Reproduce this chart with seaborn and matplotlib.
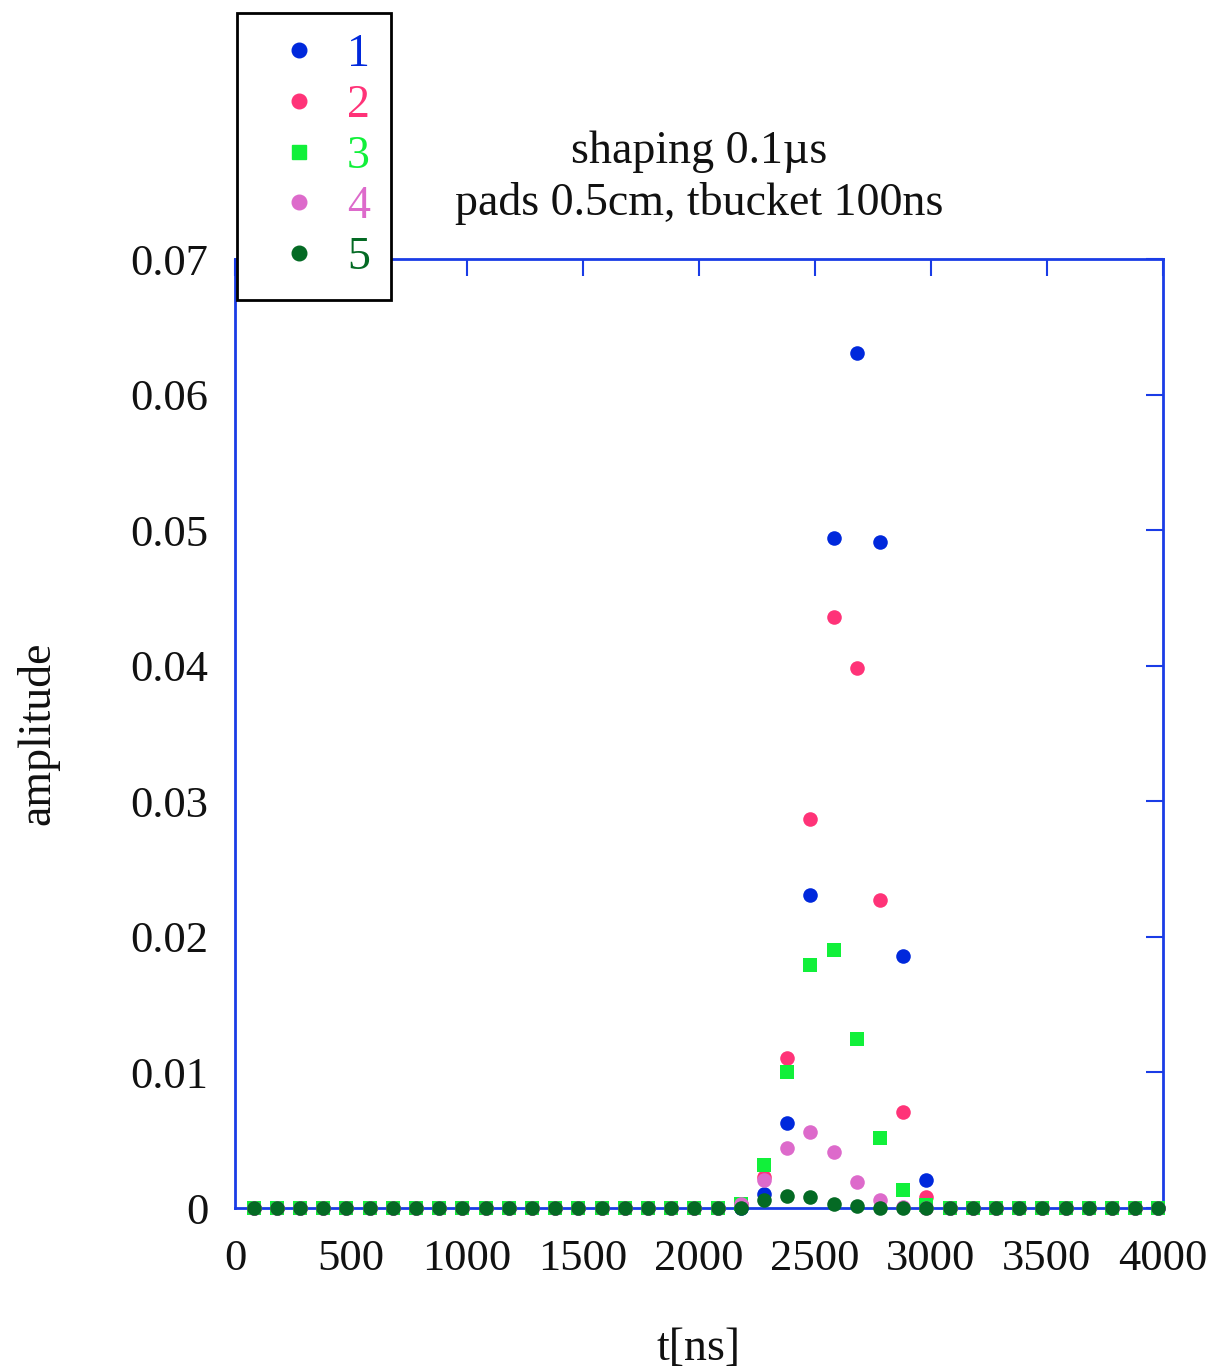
import numpy as np
import pandas as pd
import matplotlib
matplotlib.use("Agg")
import matplotlib.pyplot as plt
import seaborn as sns
from matplotlib.lines import Line2D

# ---- data ----
t_ns = list(range(80, 4000, 100))  # 40 time buckets

amp_1 = [0]*22 + [0.0010, 0.0063, 0.0231, 0.0494, 0.0631, 0.0491, 0.0186, 0.0021] + [0]*10
amp_2 = [0]*21 + [0.0003, 0.0023, 0.0111, 0.0287, 0.0436, 0.0398, 0.0227, 0.0071, 0.0008] + [0]*10
amp_3 = [0]*21 + [0.0003, 0.0032, 0.0100, 0.0179, 0.0190, 0.0125, 0.0052, 0.0013, 0.0002] + [0]*10
amp_4 = [0]*21 + [0.0003, 0.0021, 0.0044, 0.0056, 0.0041, 0.0019, 0.0006, 0.0001, 0.0] + [0]*10
amp_5 = [0]*22 + [0.0006, 0.0009, 0.0008, 0.0003, 0.00015] + [0]*13

series_names = ["1", "2", "3", "4", "5"]
series_vals = [amp_1, amp_2, amp_3, amp_4, amp_5]
series_colors = ["#0028DC", "#FF3378", "#11F03A", "#DD6ACB", "#046A24"]
series_markers = ["o", "o", "s", "o", "o"]

xticks = [0, 500, 1000, 1500, 2000, 2500, 3000, 3500, 4000]
xtick_labels = ["0", "500", "1000", "1500", "2000", "2500", "3000", "3500", "4000"]
yticks = [0, 0.01, 0.02, 0.03, 0.04, 0.05, 0.06, 0.07]
ytick_labels = ["0", "0.01", "0.02", "0.03", "0.04", "0.05", "0.06", "0.07"]

title_text = "shaping 0.1\u00b5s\npads 0.5cm, tbucket 100ns"

# ---- style ----
sns.set_theme(style="white")
plt.rcParams["font.family"] = ["Liberation Serif", "DejaVu Serif"]
FS = 32
axis_blue = "#1A3CE6"

fig = plt.figure(figsize=(12.15, 13.72), dpi=100)
ax = fig.add_axes([0.1934, 0.1195, 0.7638, 0.6917])

for name, vals, col, mk in zip(series_names, series_vals, series_colors, series_markers):
    df = pd.DataFrame({"t": t_ns, "amp": vals})
    sns.scatterplot(data=df, x="t", y="amp", ax=ax, color=col, marker=mk,
                    s=110, linewidth=0, label=name, legend=False, zorder=3,
                    clip_on=False)

ax.set_xlim(0, 4000)
ax.set_ylim(0, 0.07)
ax.set_xticks(xticks)
ax.set_xticklabels(xtick_labels)
ax.set_yticks(yticks)
ax.set_yticklabels(ytick_labels)
ax.tick_params(axis="both", direction="in", length=12, width=1.5, color=axis_blue,
               labelsize=FS, labelcolor="#111111", top=True, right=True, pad=19)
ax.tick_params(axis="x", pad=22)
for sp in ax.spines.values():
    sp.set_color(axis_blue)
    sp.set_linewidth(2)
    sp.set_visible(True)
    sp.set_zorder(2)
ax.grid(False)

ax.set_xlabel("t[ns]", fontsize=33, labelpad=35, color="#111111")
ax.set_ylabel("amplitude", fontsize=33, labelpad=51, color="#111111")
ax.set_title(title_text, fontsize=33, pad=32, linespacing=1.27, color="#111111")

handles = [Line2D([], [], linestyle="none", marker=mk, color=col, markersize=10.5)
           for col, mk in zip(series_colors, series_markers)]
leg = fig.legend(handles, series_names, loc="upper left",
                 bbox_to_anchor=(0.195, 0.9905), bbox_transform=fig.transFigure,
                 fontsize=33, frameon=True, fancybox=False, borderpad=0.45,
                 handlelength=1.8, handletextpad=0.15, labelspacing=0.18,
                 borderaxespad=0)
leg.get_frame().set_edgecolor("black")
leg.get_frame().set_linewidth(2)
leg.get_frame().set_alpha(1)
for txt, col in zip(leg.get_texts(), series_colors):
    txt.set_color(col)

fig.savefig("out.png", dpi=100)
